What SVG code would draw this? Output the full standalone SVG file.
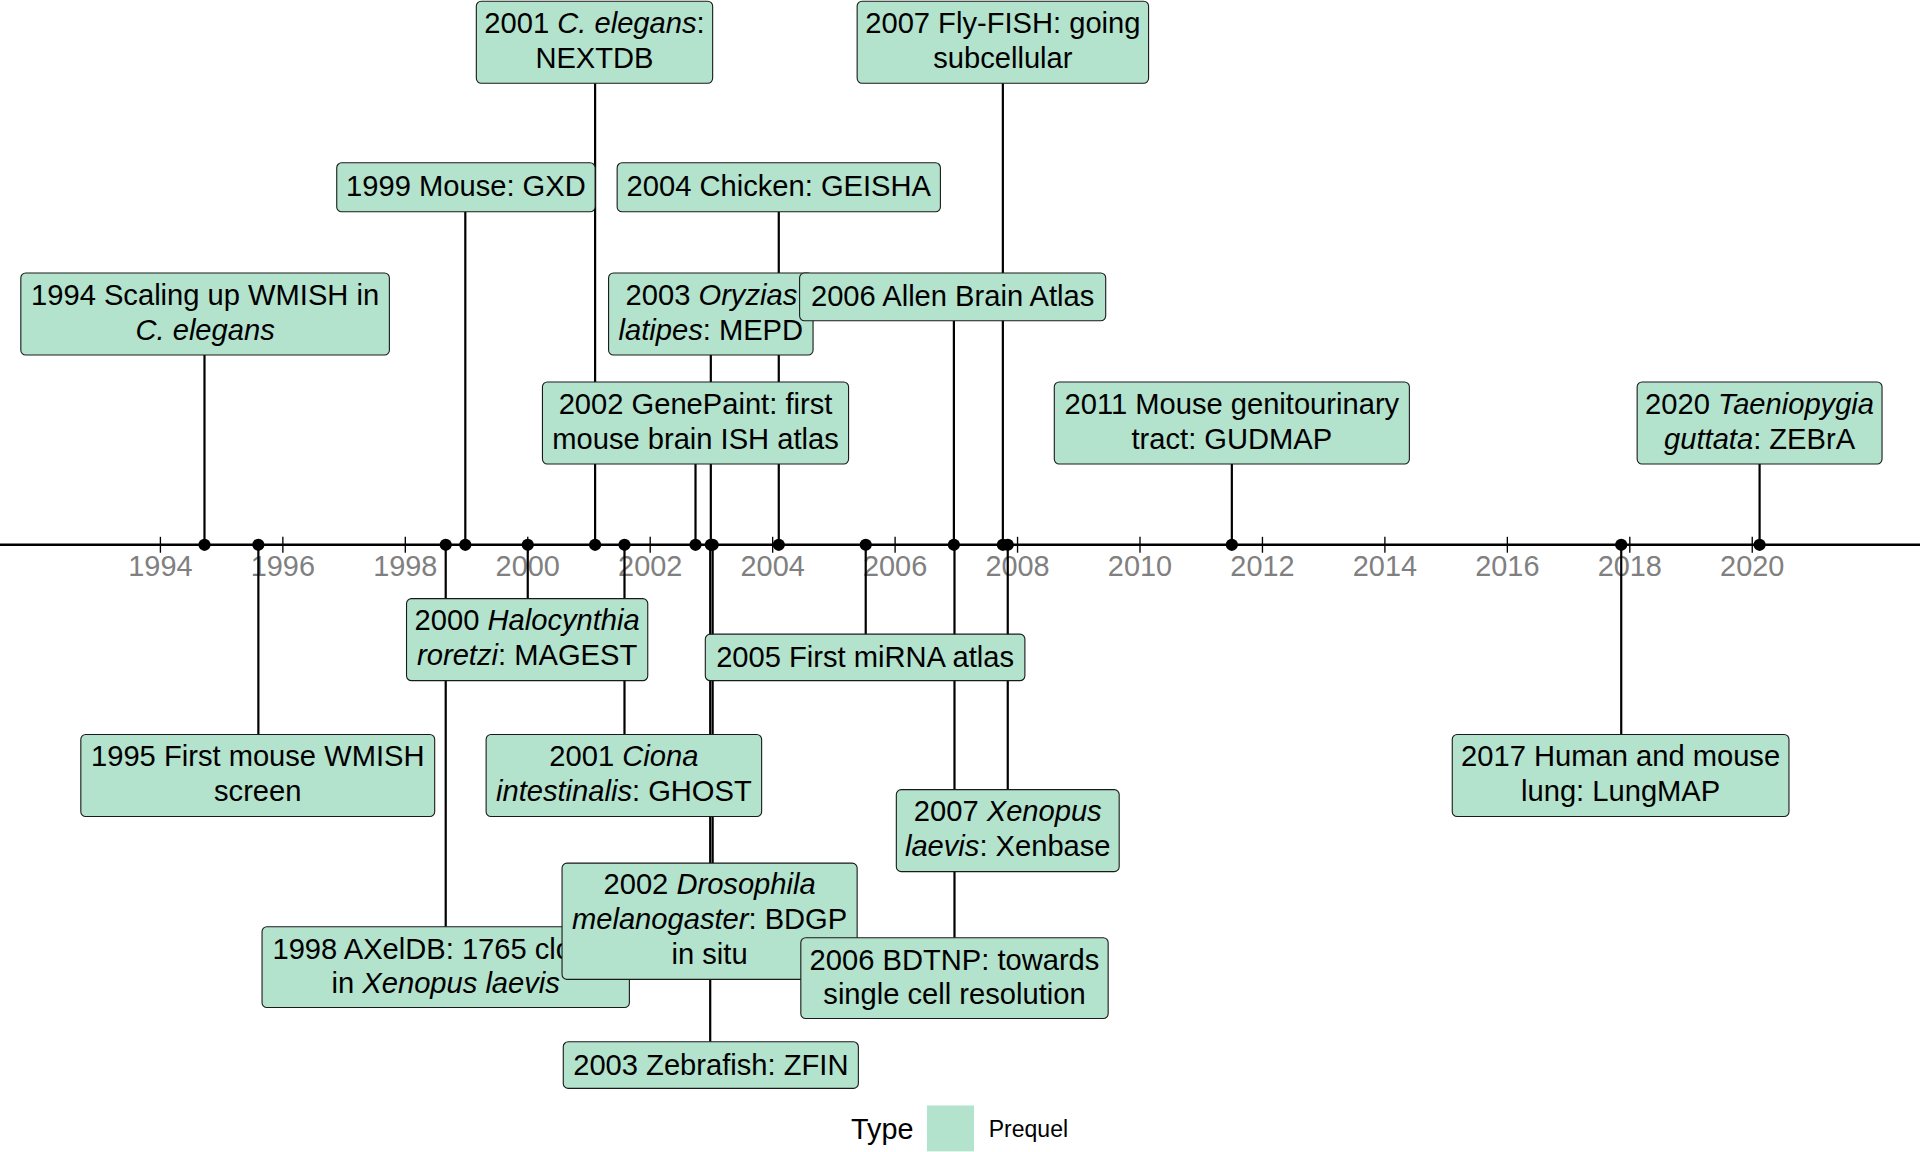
<svg xmlns="http://www.w3.org/2000/svg" width="1920" height="1152" viewBox="0 0 1920 1152">
<style>
.box{fill:#b3e2cd;stroke:#1a1a1a;stroke-width:0.9}
.t{font-family:"Liberation Sans",Arial,Helvetica,sans-serif;font-size:23.8px;fill:#000;text-anchor:middle}
.i{font-style:italic}
.conn line{stroke:#000;stroke-width:1.8}
.dot{fill:#000}
.tick{stroke:#000;stroke-width:1.1}
.yl{font-family:"Liberation Sans",Arial,Helvetica,sans-serif;font-size:23.6px;fill:#808080;text-anchor:middle}
</style>
<rect width="1920" height="1152" fill="#fff"/>
<g transform="scale(1.22449,1.22423)">
<g id="axis">
<line x1="0" y1="445" x2="1568" y2="445" stroke="#000" stroke-width="1.9"/>
<g class="tick">
<line x1="131" y1="438.5" x2="131" y2="451.5"/><line x1="231" y1="438.5" x2="231" y2="451.5"/><line x1="331" y1="438.5" x2="331" y2="451.5"/><line x1="431" y1="438.5" x2="431" y2="451.5"/><line x1="531" y1="438.5" x2="531" y2="451.5"/><line x1="631" y1="438.5" x2="631" y2="451.5"/><line x1="731" y1="438.5" x2="731" y2="451.5"/><line x1="831" y1="438.5" x2="831" y2="451.5"/><line x1="931" y1="438.5" x2="931" y2="451.5"/><line x1="1031" y1="438.5" x2="1031" y2="451.5"/><line x1="1131" y1="438.5" x2="1131" y2="451.5"/><line x1="1231" y1="438.5" x2="1231" y2="451.5"/><line x1="1331" y1="438.5" x2="1331" y2="451.5"/><line x1="1431" y1="438.5" x2="1431" y2="451.5"/>
</g>
<text class="yl" x="131" y="470.5">1994</text><text class="yl" x="231" y="470.5">1996</text><text class="yl" x="331" y="470.5">1998</text><text class="yl" x="431" y="470.5">2000</text><text class="yl" x="531" y="470.5">2002</text><text class="yl" x="631" y="470.5">2004</text><text class="yl" x="731" y="470.5">2006</text><text class="yl" x="831" y="470.5">2008</text><text class="yl" x="931" y="470.5">2010</text><text class="yl" x="1031" y="470.5">2012</text><text class="yl" x="1131" y="470.5">2014</text><text class="yl" x="1231" y="470.5">2016</text><text class="yl" x="1331" y="470.5">2018</text><text class="yl" x="1431" y="470.5">2020</text>
</g>
<g id="connectors" class="conn">
<line x1="167" y1="290" x2="167" y2="445"/>
<line x1="380" y1="173" x2="380" y2="445"/>
<line x1="486" y1="68" x2="486" y2="445"/>
<line x1="636" y1="173" x2="636" y2="445"/>
<line x1="580.5" y1="290" x2="580.5" y2="445"/>
<line x1="568" y1="379" x2="568" y2="445"/>
<line x1="779" y1="262" x2="779" y2="445"/>
<line x1="819" y1="68" x2="819" y2="445"/>
<line x1="1006" y1="379" x2="1006" y2="445"/>
<line x1="1437" y1="379" x2="1437" y2="445"/>
<line x1="211" y1="445" x2="211" y2="600"/>
<line x1="364" y1="445" x2="364" y2="757"/>
<line x1="431" y1="445" x2="431" y2="489"/>
<line x1="510" y1="445" x2="510" y2="600"/>
<line x1="707" y1="445" x2="707" y2="518"/>
<line x1="823" y1="445" x2="823" y2="645"/>
<line x1="582" y1="445" x2="582" y2="705"/>
<line x1="779.5" y1="445" x2="779.5" y2="766"/>
<line x1="580" y1="445" x2="580" y2="851"/>
<line x1="1324" y1="445" x2="1324" y2="600"/>
</g>
<g id="dots" class="dot">
<circle cx="167" cy="445" r="5"/><circle cx="211" cy="445" r="5"/><circle cx="364" cy="445" r="5"/><circle cx="380" cy="445" r="5"/><circle cx="431" cy="445" r="5"/><circle cx="486" cy="445" r="5"/><circle cx="510" cy="445" r="5"/><circle cx="568" cy="445" r="5"/><circle cx="580.5" cy="445" r="5"/><circle cx="582" cy="445" r="5"/><circle cx="636" cy="445" r="5"/><circle cx="707" cy="445" r="5"/><circle cx="779" cy="445" r="5"/><circle cx="819" cy="445" r="5"/><circle cx="823" cy="445" r="5"/><circle cx="1006" cy="445" r="5"/><circle cx="1324" cy="445" r="5"/><circle cx="1437" cy="445" r="5"/>
</g>
<g id="n1994"><rect class="box" x="17" y="223" width="301" height="67" rx="4"/><text class="t" x="167.5" y="249">1994 Scaling up WMISH in</text><text class="t" x="167.5" y="277.5"><tspan class="i">C. elegans</tspan></text></g>
<g id="n1999"><rect class="box" x="275" y="133" width="211" height="40" rx="4"/><text class="t" x="380.5" y="160.5">1999 Mouse: GXD</text></g>
<g id="n2001c"><rect class="box" x="389" y="1" width="193" height="67" rx="4"/><text class="t" x="485.5" y="27">2001 <tspan class="i">C. elegans</tspan>:</text><text class="t" x="485.5" y="55.5">NEXTDB</text></g>
<g id="n2004"><rect class="box" x="504" y="133" width="264" height="40" rx="4"/><text class="t" x="636" y="160.5">2004 Chicken: GEISHA</text></g>
<g id="n2003o"><rect class="box" x="497" y="223" width="167" height="67" rx="4"/><text class="t" x="581" y="249">2003 <tspan class="i">Oryzias</tspan></text><text class="t" x="580.5" y="277.5"><tspan class="i">latipes</tspan>: MEPD</text></g>
<g id="n2002g"><rect class="box" x="443" y="312" width="250" height="67" rx="4"/><text class="t" x="568" y="338">2002 GenePaint: first</text><text class="t" x="568" y="366.5">mouse brain ISH atlas</text></g>
<g id="n2006a"><rect class="box" x="653" y="223" width="250" height="39" rx="4"/><text class="t" x="778" y="250">2006 Allen Brain Atlas</text></g>
<g id="n2007f"><rect class="box" x="700" y="1" width="238" height="67" rx="4"/><text class="t" x="819" y="27">2007 Fly-FISH: going</text><text class="t" x="819" y="55.5">subcellular</text></g>
<g id="n2011"><rect class="box" x="861" y="312" width="290" height="67" rx="4"/><text class="t" x="1006" y="338">2011 Mouse genitourinary</text><text class="t" x="1006" y="366.5">tract: GUDMAP</text></g>
<g id="n2020"><rect class="box" x="1337" y="312" width="200" height="67" rx="4"/><text class="t" x="1437" y="338">2020 <tspan class="i">Taeniopygia</tspan></text><text class="t" x="1437" y="366.5"><tspan class="i">guttata</tspan>: ZEBrA</text></g>
<g id="n1995"><rect class="box" x="66" y="600" width="289" height="67" rx="4"/><text class="t" x="210.5" y="626">1995 First mouse WMISH</text><text class="t" x="210.5" y="654.5">screen</text></g>
<g id="n1998"><rect class="box" x="214" y="757" width="300" height="66" rx="4"/><text class="t" x="364" y="783">1998 AXelDB: 1765 clones</text><text class="t" x="364" y="811">in <tspan class="i">Xenopus laevis</tspan></text></g>
<g id="n2000"><rect class="box" x="332" y="489" width="197" height="67" rx="4"/><text class="t" x="430.5" y="515">2000 <tspan class="i">Halocynthia</tspan></text><text class="t" x="430.5" y="543.5"><tspan class="i">roretzi</tspan>: MAGEST</text></g>
<g id="n2001ci"><rect class="box" x="397" y="600" width="225" height="67" rx="4"/><text class="t" x="509.5" y="626">2001 <tspan class="i">Ciona</tspan></text><text class="t" x="509.5" y="654.5"><tspan class="i">intestinalis</tspan>: GHOST</text></g>
<g id="n2005"><rect class="box" x="576" y="518" width="261" height="38" rx="4"/><text class="t" x="706.5" y="545">2005 First miRNA atlas</text></g>
<g id="n2007x"><rect class="box" x="732" y="645" width="182" height="67" rx="4"/><text class="t" x="823" y="671">2007 <tspan class="i">Xenopus</tspan></text><text class="t" x="823" y="699.5"><tspan class="i">laevis</tspan>: Xenbase</text></g>
<g id="n2002d"><rect class="box" x="459" y="705" width="241" height="95" rx="4"/><text class="t" x="579.5" y="730.5">2002 <tspan class="i">Drosophila</tspan></text><text class="t" x="579.5" y="759"><tspan class="i">melanogaster</tspan>: BDGP</text><text class="t" x="579.5" y="787.5">in situ</text></g>
<g id="n2006b"><rect class="box" x="654" y="766" width="251" height="66" rx="4"/><text class="t" x="779.5" y="792">2006 BDTNP: towards</text><text class="t" x="779.5" y="820">single cell resolution</text></g>
<g id="n2003z"><rect class="box" x="460" y="851" width="241" height="38" rx="4"/><text class="t" x="580.5" y="878">2003 Zebrafish: ZFIN</text></g>
<g id="n2017"><rect class="box" x="1186" y="600" width="275" height="67" rx="4"/><text class="t" x="1323.5" y="626">2017 Human and mouse</text><text class="t" x="1323.5" y="654.5">lung: LungMAP</text></g>
<g id="legend">
<text x="695" y="930" font-family="'Liberation Sans',Arial,sans-serif" font-size="23.5" fill="#000">Type</text>
<rect x="757" y="903" width="38.5" height="37.5" fill="#b3e2cd"/>
<text x="807.5" y="928.5" font-family="'Liberation Sans',Arial,sans-serif" font-size="18.8" fill="#000">Prequel</text>
</g>
</g>
</svg>
